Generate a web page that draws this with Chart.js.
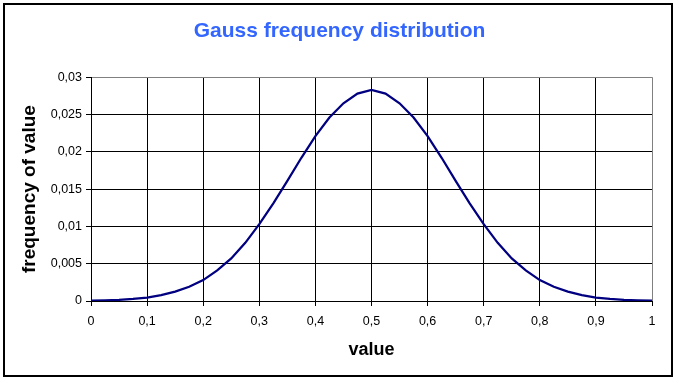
<!DOCTYPE html>
<html>
<head>
<meta charset="utf-8">
<script src="https://cdn.jsdelivr.net/npm/chart.js@4"></script>
<style>
	body { margin: 0; background: #fff; }
	#wrap { width: 679px; height: 383px; }
</style>
</head>
<body>
<div id="wrap"><canvas id="gauss-chart" width="679" height="383"></canvas></div>
<script>
const chartTitle = "Gauss frequency distribution";
const xTitle = "value";
const yTitle = "frequency of value";

// values
const xValues = [0, 0.025, 0.05, 0.075, 0.1, 0.125, 0.15, 0.175, 0.2, 0.225,
	0.25, 0.275, 0.3, 0.325, 0.35, 0.375, 0.4, 0.425, 0.45, 0.475,
	0.5, 0.525, 0.55, 0.575, 0.6, 0.625, 0.65, 0.675, 0.7, 0.725,
	0.75, 0.775, 0.8, 0.825, 0.85, 0.875, 0.9, 0.925, 0.95, 0.975, 1];
const frequency = [0.00005, 0.00009, 0.00016, 0.00028, 0.00045, 0.00078, 0.00125, 0.0019, 0.0028, 0.0041,
	0.0057, 0.0078, 0.0103, 0.0131, 0.0161, 0.0192, 0.0221, 0.0246, 0.0265, 0.0278,
	0.0283, 0.0278, 0.0265, 0.0246, 0.0221, 0.0192, 0.0161, 0.0131, 0.0103, 0.0078,
	0.0057, 0.0041, 0.0028, 0.0019, 0.00125, 0.00078, 0.00045, 0.00028, 0.00016, 0.00009, 0.00005];

const xMin = 0, xMax = 1, xStep = 0.1;
const yMin = 0, yMax = 0.03, yStep = 0.005;

const font = "'Liberation Sans', Arial, sans-serif";

function commaLabel(v, digits) {
	return String(+v.toFixed(digits)).replace('.', ',');
}

const framePlugin = {
	id: 'frame',
	beforeDraw(chart) {
		const ctx = chart.ctx;
		ctx.save();
		ctx.fillStyle = '#fff';
		ctx.fillRect(0, 0, chart.width, chart.height);
		ctx.restore();
	},
	afterDraw(chart) {
		const ctx = chart.ctx;
		ctx.save();
		ctx.strokeStyle = '#000';
		ctx.lineWidth = 2;
		ctx.strokeRect(4, 4, 668, 372);
		ctx.restore();
	}
};

const ctx = document.getElementById("gauss-chart").getContext("2d");

new Chart(ctx, {
	type: "line",
	data: {
		datasets: [{
			data: xValues.map((x, i) => ({ x: x, y: frequency[i] })),
			borderColor: "#000080",
			borderWidth: 2.25,
			pointRadius: 0,
			tension: 0,
			fill: false
		}]
	},
	options: {
		responsive: false,
		animation: false,
		devicePixelRatio: 1,
		layout: { padding: 0 },
		plugins: {
			legend: { display: false },
			tooltip: { enabled: false },
			title: {
				display: true,
				text: chartTitle,
				color: "#3366FF",
				font: { family: font, size: 21, weight: "bold", lineHeight: 1.2 },
				padding: { top: 19, bottom: 33 }
			}
		},
		scales: {
			x: {
				type: "linear",
				min: xMin,
				max: xMax,
				afterFit(scale) { scale.height = 82; },
				ticks: {
					stepSize: xStep,
					color: "#000",
					padding: 8,
					maxRotation: 0,
					font: { family: font, size: 12.5 },
					callback: v => commaLabel(v, 1)
				},
				grid: {
					color: c => (c.tick && Math.abs(c.tick.value - xMax) < 1e-9) ? "#808080" : "#000",
					tickColor: "#000",
					tickLength: 5,
					lineWidth: 1
				},
				border: { color: "#000", width: 1 },
				title: {
					display: true,
					text: xTitle,
					color: "#000",
					font: { family: font, size: 18, weight: "bold", lineHeight: 1.2 },
					padding: { top: 0, bottom: 22 }
				}
			},
			y: {
				min: yMin,
				max: yMax,
				afterFit(scale) { scale.width = 91; },
				ticks: {
					stepSize: yStep,
					color: "#000",
					padding: 4,
					font: { family: font, size: 12.5 },
					callback: v => commaLabel(v, 3)
				},
				grid: {
					color: c => (c.tick && Math.abs(c.tick.value - yMax) < 1e-9) ? "#808080" : "#000",
					tickColor: "#000",
					tickLength: 5,
					lineWidth: 1
				},
				border: { color: "#000", width: 1 },
				title: {
					display: true,
					text: yTitle,
					color: "#000",
					font: { family: font, size: 19, weight: "bold", lineHeight: 1.2 },
					padding: { top: 18, bottom: 0 }
				}
			},
			// empty right-hand axis, only keeps the right margin
			yRight: {
				position: "right",
				display: true,
				min: yMin,
				max: yMax,
				afterFit(scale) { scale.width = 27; },
				ticks: { display: false },
				grid: { display: false },
				border: { display: false }
			}
		}
	},
	plugins: [framePlugin]
});
</script>
</body>
</html>
